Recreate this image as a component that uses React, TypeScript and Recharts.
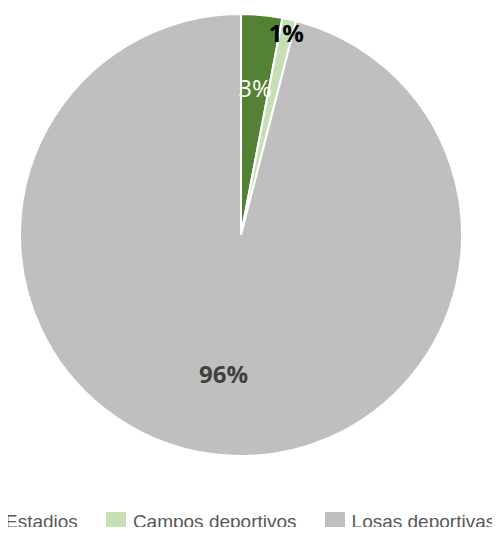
import { PieChart, Pie, Cell, Legend } from 'recharts';

// Tipos de infraestructura deportiva
const categories = ['Estadios', 'Campos deportivos', 'Losas deportivas'];
const shares = [3, 1, 96];
const colors = ['#548235', '#c5e0b4', '#bfbfbf'];
const labelColors = ['#ffffff', '#000000', '#404040'];
const labelRadius = [0.67, 0.94, 0.63];
const labelWeights = [400, 700, 700];

const data = categories.map((name, i) => ({ name, value: shares[i] }));

const RADIAN = Math.PI / 180;

const renderLabel = ({ cx, cy, midAngle, outerRadius, index, value }: any) => {
  const r = outerRadius * labelRadius[index];
  const x = cx + r * Math.cos(-midAngle * RADIAN);
  const y = cy + r * Math.sin(-midAngle * RADIAN);
  return (
    <text
      x={x}
      y={y}
      fill={labelColors[index]}
      textAnchor="middle"
      dominantBaseline="central"
      style={{ fontFamily: 'Open Sans, sans-serif', fontSize: 24, fontWeight: labelWeights[index] }}
    >
      {value}%
    </text>
  );
};

const CustomLegend = () => (
  <div style={{ display: 'flex', alignItems: 'center', fontFamily: 'Liberation Sans, Arial, sans-serif', fontSize: 19, lineHeight: '22px', color: '#595959' }}>
    {categories.map((name, i) => (
      <div key={name} style={{ display: 'flex', alignItems: 'center', marginRight: 28 }}>
        <span style={{ display: 'inline-block', width: 20, height: 20, background: colors[i], marginRight: 7 }} />
        <span>{name}</span>
      </div>
    ))}
  </div>
);

export default function App() {
  return (
    <div style={{ margin: -8, width: 500, height: 535, background: '#fff', overflow: 'hidden' }}>
      <PieChart width={500} height={535} margin={{ top: 0, right: 0, bottom: 0, left: 0 }}>
        <Pie
          data={data}
          dataKey="value"
          nameKey="name"
          cx={241}
          cy={235}
          outerRadius={221}
          startAngle={90}
          endAngle={-270}
          stroke="#ffffff"
          strokeWidth={2}
          label={renderLabel}
          labelLine={false}
          isAnimationActive={false}
        >
          {data.map((d, i) => (
            <Cell key={d.name} fill={colors[i]} />
          ))}
        </Pie>
        <Legend content={<CustomLegend />} wrapperStyle={{ left: -22, top: 511, width: 700 }} />
      </PieChart>
    </div>
  );
}
